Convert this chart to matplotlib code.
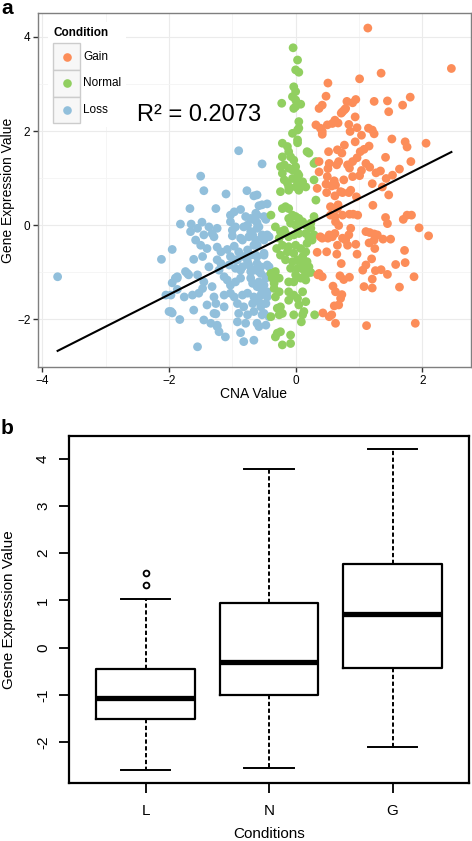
import numpy as np
import matplotlib.pyplot as plt
from matplotlib.patches import Rectangle
from matplotlib.lines import Line2D

plt.rcParams['font.family'] = ['Liberation Sans', 'DejaVu Sans']

# ---- panel a data (CNA value, gene expression) ----
gain_pts = [
    (1.14, 4.19), (2.46, 3.33), (1.35, 3.23), (1.01, 3.11), (0.51, 3.02), (0.48, 2.74), (1.81, 2.72), (1.69, 2.55),
    (1.45, 2.64), (1.47, 2.41), (1.24, 2.63), (0.95, 2.67), (0.90, 2.60), (0.81, 2.63), (0.77, 2.45), (0.72, 2.38),
    (0.42, 2.55), (0.94, 2.30), (0.62, 2.23), (0.67, 2.17), (0.58, 2.16), (0.50, 2.13), (0.84, 2.14), (0.86, 1.99),
    (0.97, 2.07), (1.15, 2.06), (1.21, 2.02), (1.24, 1.94), (1.04, 1.91), (0.42, 1.99), (1.52, 1.83), (1.73, 1.77),
    (1.76, 1.66), (2.06, 1.74), (0.94, 1.77), (0.77, 1.70), (1.16, 1.68), (1.08, 1.61), (1.02, 1.56), (0.97, 1.43),
    (0.52, 1.56), (0.73, 1.53), (1.42, 1.44), (1.82, 1.35), (1.11, 1.31), (1.17, 1.23), (0.65, 1.28), (0.51, 1.20),
    (0.85, 1.21), (1.04, 1.16), (1.64, 1.19), (1.34, 1.15), (1.27, 1.11), (1.53, 1.06), (1.43, 0.99), (0.76, 0.96),
    (0.61, 0.94), (0.90, 1.03), (1.01, 1.05), (1.21, 0.88), (0.48, 0.87), (0.57, 0.83), (0.49, 0.69), (0.62, 0.62),
    (0.74, 0.69), (0.84, 0.69), (0.96, 0.60), (1.37, 0.81), (1.47, 0.64), (1.22, 0.42), (0.55, 0.39), (0.67, 0.43),
    (0.62, 0.18), (0.85, 0.23), (0.91, 0.23), (0.98, 0.21), (1.42, 0.16), (1.45, 0.03), (1.70, 0.12), (1.76, 0.21),
    (1.83, 0.21), (1.95, -0.06), (2.10, -0.23), (0.68, -0.01), (0.87, -0.07), (0.42, -0.28), (0.51, -0.28), (0.58, -0.25),
    (0.62, -0.18), (0.79, -0.32), (1.11, -0.14), (1.17, -0.16), (1.24, -0.19), (1.38, -0.30), (1.50, -0.30), (0.95, -0.41),
    (0.97, -0.62), (1.16, -0.38), (1.25, -0.50), (1.20, -0.72), (0.66, -0.43), (0.49, -0.57), (0.65, -0.62), (1.72, -0.54),
    (0.72, -0.82), (1.58, -0.84), (1.73, -0.80), (1.11, -0.85), (1.06, -0.96), (1.26, -0.97), (1.35, -0.95), (1.45, -1.05),
    (1.87, -1.10), (0.85, -1.11), (0.76, -1.16), (1.21, -1.15), (0.42, -1.10), (0.59, -1.30), (1.08, -1.31), (1.21, -1.34),
    (1.64, -1.32), (0.73, -1.48), (0.71, -1.56), (0.61, -1.72), (0.43, -1.87), (0.57, -1.91), (0.63, -2.09), (1.12, -2.14),
    (1.89, -2.09), (0.35, -1.06), (0.37, 2.48), (0.32, 2.13), (0.39, 2.06), (0.42, 1.93), (0.74, 2.41), (0.79, 2.48),
    (0.66, 1.60), (0.37, 1.35), (0.53, 1.31), (0.68, 1.35), (0.82, 1.28), (0.90, 1.35), (0.37, 1.13), (0.50, 1.03),
    (0.63, 0.85), (0.71, 0.71), (0.34, 0.78), (0.87, 0.74), (0.66, 0.35), (0.55, 0.21), (0.74, 0.21), (0.63, 0.07),
    (0.39, -0.25), (0.53, -0.21), (0.74, -0.28), (0.84, -0.21), (0.82, -0.43), (0.34, -0.58), (0.37, -1.03), (0.70, -1.08),
    (0.63, -1.42), (0.68, -1.70), (0.53, -1.95), (1.29, -0.21), (1.24, -0.32),
]

normal_pts = [
    (-0.04, 3.77), (0.03, 3.51), (0.00, 3.30), (0.05, 3.25), (-0.03, 2.94), (0.00, 2.84), (-0.05, 2.73), (-0.22, 2.59),
    (0.00, 2.52), (0.08, 2.57), (0.00, 2.66), (-0.03, 2.48), (0.05, 2.20), (0.03, 2.02), (-0.05, 1.95), (0.05, 2.06),
    (0.03, 1.81), (-0.21, 1.74), (-0.13, 1.67), (-0.11, 1.56), (-0.21, 1.45), (-0.08, 1.45), (0.18, 1.56), (0.32, 1.35),
    (0.03, 1.75), (0.21, 1.53), (0.29, 1.31), (-0.24, 1.24), (-0.11, 1.21), (-0.05, 1.17), (-0.18, 1.28), (-0.03, 1.38),
    (0.00, 1.24), (0.03, 1.10), (-0.21, 1.10), (-0.18, 0.96), (-0.05, 0.99), (0.03, 0.92), (0.05, 1.06), (0.00, 0.81),
    (-0.11, 0.81), (0.08, 0.85), (0.16, 0.81), (0.29, 0.96), (0.11, 0.92), (-0.13, 0.89), (-0.24, 0.71), (-0.11, 0.74),
    (0.05, 0.74), (0.32, 0.53), (-0.16, 0.39), (-0.11, 0.35), (-0.21, 0.35), (-0.05, 0.21), (0.00, 0.18), (0.05, 0.14),
    (-0.08, 0.04), (0.00, 0.00), (0.16, 0.00), (0.24, 0.04), (0.29, 0.18), (-0.39, 0.21), (-0.11, 0.14), (0.11, 0.07),
    (0.03, -0.04), (-0.32, -0.04), (-0.24, -0.14), (-0.16, -0.18), (-0.26, -0.28), (-0.11, -0.25), (-0.03, -0.21), (0.05, -0.18),
    (0.16, -0.18), (0.21, -0.28), (0.29, -0.21), (-0.18, -0.11), (0.24, -0.07), (0.26, -0.32), (0.18, -0.39), (-0.21, -0.43),
    (-0.11, -0.46), (0.00, -0.43), (0.08, -0.50), (-0.13, -0.57), (-0.03, -0.60), (0.16, -0.57), (-0.24, -0.64), (0.11, -0.67),
    (-0.30, -0.50), (-0.16, -0.74), (-0.05, -0.78), (0.03, -0.74), (0.11, -0.82), (0.18, -0.78), (-0.08, -0.92), (0.03, -0.92),
    (0.13, -0.96), (0.21, -0.89), (-0.39, -1.03), (-0.32, -0.99), (-0.37, -1.13), (-0.26, -1.13), (0.00, -1.06), (0.08, -1.13),
    (-0.11, -1.21), (-0.03, -1.21), (0.16, -1.17), (-0.34, -1.35), (-0.32, -1.53), (-0.26, -1.42), (-0.11, -1.42), (-0.03, -1.49),
    (0.03, -1.56), (0.11, -1.42), (-0.11, -1.60), (0.05, -1.70), (0.16, -1.63), (-0.29, -1.77), (-0.24, -1.74), (-0.26, -1.91),
    (-0.21, -1.88), (0.11, -1.91), (0.13, -1.84), (0.30, -1.91), (-0.29, -2.30), (-0.24, -2.27), (-0.08, -2.34), (-0.32, -2.38),
    (-0.08, -2.52), (-0.21, -2.55), (0.09, -2.06), (-0.03, -1.91), (-0.39, -1.95), (-0.34, -1.24), (0.24, -1.01), (0.16, -1.06),
]

loss_pts = [
    (-3.76, -1.10), (-0.53, 1.30), (-0.90, 1.58), (-1.50, 1.04), (-1.45, 0.73), (-1.10, 0.66), (-0.77, 0.73), (-0.66, 0.62),
    (-1.67, 0.35), (-1.26, 0.35), (-0.58, 0.41), (-0.45, 0.45), (-0.97, 0.28), (-0.87, 0.33), (-1.03, 0.21), (-0.79, 0.18),
    (-0.68, 0.12), (-0.76, 0.00), (-1.82, 0.02), (-1.65, 0.02), (-1.48, 0.06), (-1.37, -0.04), (-1.24, -0.07), (-1.03, 0.07),
    (-1.00, -0.11), (-0.61, 0.05), (-0.47, 0.12), (-1.66, -0.14), (-1.55, -0.07), (-1.45, -0.21), (-1.32, -0.18), (-1.29, -0.25),
    (-1.58, -0.32), (-1.00, -0.23), (-0.84, -0.32), (-0.68, -0.21), (-0.63, -0.32), (-0.53, -0.25), (-0.45, -0.21), (-1.50, -0.43),
    (-1.40, -0.50), (-1.24, -0.47), (-1.18, -0.57), (-1.08, -0.52), (-0.97, -0.45), (-0.90, -0.57), (-0.76, -0.53), (-0.66, -0.43),
    (-1.95, -0.52), (-2.12, -0.73), (-1.47, -0.67), (-1.24, -0.74), (-1.18, -0.82), (-1.03, -0.67), (-0.95, -0.74), (-0.82, -0.67),
    (-0.71, -0.64), (-0.61, -0.67), (-0.50, -0.64), (-1.61, -0.73), (-1.37, -0.89), (-1.21, -0.96), (-1.05, -0.85), (-0.95, -0.92),
    (-0.84, -0.89), (-0.74, -0.85), (-0.66, -0.96), (-0.55, -0.89), (-0.45, -0.85), (-1.74, -0.99), (-1.69, -1.06), (-1.55, -1.06),
    (-1.87, -1.13), (-1.95, -1.23), (-1.45, -1.21), (-1.47, -1.35), (-1.32, -1.31), (-1.13, -1.10), (-1.08, -1.17), (-1.03, -1.28),
    (-0.95, -1.21), (-0.87, -1.13), (-0.71, -1.13), (-0.68, -1.24), (-0.58, -1.21), (-0.61, -1.31), (-0.50, -1.28), (-2.05, -1.49),
    (-1.76, -1.53), (-1.63, -1.49), (-1.53, -1.45), (-1.29, -1.53), (-1.13, -1.49), (-1.03, -1.45), (-0.97, -1.53), (-0.84, -1.49),
    (-0.76, -1.45), (-0.66, -1.53), (-0.55, -1.49), (-0.45, -1.53), (-1.40, -1.70), (-1.13, -1.74), (-0.92, -1.67), (-0.82, -1.74),
    (-0.68, -1.67), (-0.55, -1.74), (-0.47, -1.67), (-1.97, -1.84), (-1.61, -1.81), (-1.26, -1.89), (-0.90, -1.88), (-0.76, -1.91),
    (-0.66, -1.84), (-0.50, -1.88), (-1.83, -2.01), (-1.45, -2.02), (-1.34, -2.09), (-1.24, -2.13), (-0.92, -2.06), (-0.79, -2.09),
    (-0.61, -2.09), (-1.21, -2.27), (-1.11, -2.38), (-0.87, -2.29), (-0.66, -2.45), (-0.82, -2.48), (-1.55, -2.59), (-0.95, -0.04),
    (-0.82, -0.04), (-0.71, -0.14), (-0.58, -0.04), (-0.87, -0.28), (-0.74, -0.25), (-0.50, -0.32), (-0.63, -0.64), (-0.50, -0.60),
    (-0.92, -0.74), (-0.76, -0.78), (-0.61, -0.82), (-0.42, -0.89), (-0.87, -0.96), (-0.71, -0.99), (-0.55, -1.03), (-0.45, -1.10),
    (-0.63, 0.25), (-0.71, 0.14), (-0.61, -0.07), (-0.42, -0.25), (-0.61, -0.43), (-0.58, -0.99), (-0.47, -1.13), (-0.55, -1.35),
    (-0.45, -1.42), (-0.58, -1.63), (-0.53, -1.91), (-0.42, -1.95), (-0.58, -2.16), (-0.47, -2.13), (-1.97, -1.49), (-1.87, -1.37),
    (-1.90, -1.13), (-2.00, -1.84), (-1.95, -1.87), (-1.71, -1.03), (-1.87, -1.10), (-1.24, -2.16), (-1.29, -1.88), (-1.26, -1.67),
    (-0.61, 0.64), (-0.53, 0.43), (-0.61, 0.21), (-0.50, 0.18), (-0.53, -0.21), (-0.61, -0.43),
]

conditions = ['Gain', 'Normal', 'Loss']
cond_colors = ['#FC8D59', '#91CF60', '#91BFDB']

fit_slope = 0.68
fit_intercept = -0.12
r2_text = 'R\u00b2 = 0.2073'

# ---- panel b data (box statistics) ----
box_labels = ['L', 'N', 'G']
box_whislo = [-2.59, -2.55, -2.11]
box_q1 = [-1.50, -1.00, -0.42]
box_med = [-1.07, -0.31, 0.72]
box_q3 = [-0.46, 0.94, 1.78]
box_whishi = [1.04, 3.79, 4.20]
box_fliers = [[1.58, 1.32], [], []]
b_yticks = [-2, -1, 0, 1, 2, 3, 4]

W, H = 472, 841


def fx(x):
    return x / W


def fy(y):
    return 1 - y / H


fig = plt.figure(figsize=(W / 100, H / 100), dpi=100)

# ================= panel a =================
ax1 = fig.add_axes([fx(38), fy(367), (471 - 38) / W, (367 - 13) / H])
ax1.set_xlim(-4.07, 2.77)
ax1.set_ylim(-3.02, 4.51)
ax1.set_xticks([-4, -2, 0, 2])
ax1.set_xticklabels(['\u22124', '\u22122', '0', '2'])
ax1.set_yticks([-2, 0, 2, 4])
ax1.set_yticklabels(['\u22122', '0', '2', '4'])
ax1.set_xticks([-3, -1, 1], minor=True)
ax1.set_yticks([-1, 1, 3], minor=True)
ax1.grid(True, which='major', color='#EBEBEB', lw=0.8, zorder=0)
ax1.grid(True, which='minor', color='#F4F4F4', lw=0.6, zorder=0)
ax1.set_axisbelow(True)
ax1.tick_params(which='major', length=3.5, width=1, color='#333333', labelsize=8.5, pad=2)
ax1.tick_params(which='minor', length=0)
for s in ax1.spines.values():
    s.set_color('#7F7F7F')
    s.set_linewidth(1.0)

for pts, col in zip([loss_pts, normal_pts, gain_pts], cond_colors[::-1]):
    arr = np.array(pts)
    ax1.scatter(arr[:, 0], arr[:, 1], s=40, color=col, edgecolors='none', zorder=2)

all_x = np.concatenate([np.array(p)[:, 0] for p in [gain_pts, normal_pts, loss_pts]])
fit_x = np.array([all_x.min(), all_x.max()])
ax1.plot(fit_x, fit_slope * fit_x + fit_intercept, color='black', lw=1.5, zorder=3)

ax1.text(-2.5, 2.35, r2_text, fontsize=17, ha='left', va='center', zorder=4)

# legend drawn by hand (ggplot style keys)
fig.patches.append(Rectangle((fx(48), fy(127)), 78 / W, 105 / H, transform=fig.transFigure,
                             facecolor='white', edgecolor='none', zorder=5))
fig.text(fx(54), fy(33), 'Condition', fontsize=8.5, fontweight='bold', ha='left', va='center', zorder=6)
key_top = [43.3, 70.0, 96.7]
for i, (lab, col) in enumerate(zip(conditions, cond_colors)):
    y0 = key_top[i]
    fig.patches.append(Rectangle((fx(53), fy(y0 + 26.5)), 27 / W, 26.5 / H, transform=fig.transFigure,
                                 facecolor='#F7F7F7', edgecolor='#CCCCCC', lw=1.0, zorder=6))
    fig.lines.append(Line2D([fx(66.5)], [fy(y0 + 13.3)], transform=fig.transFigure, marker='o',
                            markersize=6.2, color=col, markeredgewidth=0, zorder=7))
    fig.text(fx(83.5), fy(y0 + 13.3), lab, fontsize=8.5, ha='left', va='center', zorder=7)

fig.text(fx(254), fy(394), 'CNA Value', fontsize=10, ha='center', va='center')
fig.text(fx(8), fy(190), 'Gene Expression Value', fontsize=10, ha='center', va='center', rotation=90)
fig.text(fx(7), fy(8), 'a', fontsize=15, fontweight='bold', ha='center', va='center')

# ================= panel b =================
b_left, b_right, b_top, b_bottom = 69.3, 469.0, 436.0, 783.3
ax2 = fig.add_axes([fx(b_left), fy(b_bottom), (b_right - b_left) / W, (b_bottom - b_top) / H])
stats = []
for i in range(len(box_labels)):
    stats.append(dict(label=box_labels[i], whislo=box_whislo[i], q1=box_q1[i], med=box_med[i],
                      q3=box_q3[i], whishi=box_whishi[i], fliers=box_fliers[i]))
ax2.bxp(stats, positions=[1, 2, 3], widths=0.8, capwidths=0.4, showfliers=True,
        boxprops=dict(color='black', lw=1.6),
        medianprops=dict(color='black', lw=3.8, solid_capstyle='butt'),
        whiskerprops=dict(color='black', lw=1.4, linestyle=(0, (2.2, 1.3))),
        capprops=dict(color='black', lw=1.4),
        flierprops=dict(marker='o', markersize=4.2, markerfacecolor='none',
                        markeredgecolor='black', markeredgewidth=1.3))
ax2.set_xlim(0.38, 3.62)
ax2.set_ylim(-2.87, 4.48)
ax2.set_yticks(b_yticks)
ax2.set_xticks([1, 2, 3])
ax2.set_xticklabels(box_labels)
ax2.tick_params(axis='both', direction='out', length=7, width=1.3, color='black', labelsize=11)
ax2.tick_params(axis='x', pad=8)
ax2.tick_params(axis='y', labelleft=False)
# R-style y tick labels, rotated and parallel to the axis
lab_x = (43 - b_left) / (b_right - b_left)
for v in b_yticks:
    ax2.text(lab_x, v, str(v), transform=ax2.get_yaxis_transform(), rotation=90,
             ha='center', va='center', fontsize=11, clip_on=False)
for s in ax2.spines.values():
    s.set_color('black')
    s.set_linewidth(1.6)

fig.text(fx(269), fy(834), 'Conditions', fontsize=11, ha='center', va='center')
fig.text(fx(9), fy(610), 'Gene Expression Value', fontsize=11, ha='center', va='center', rotation=90)
fig.text(fx(7), fy(429), 'b', fontsize=15, fontweight='bold', ha='center', va='center')

fig.savefig('out.png', dpi=100)
